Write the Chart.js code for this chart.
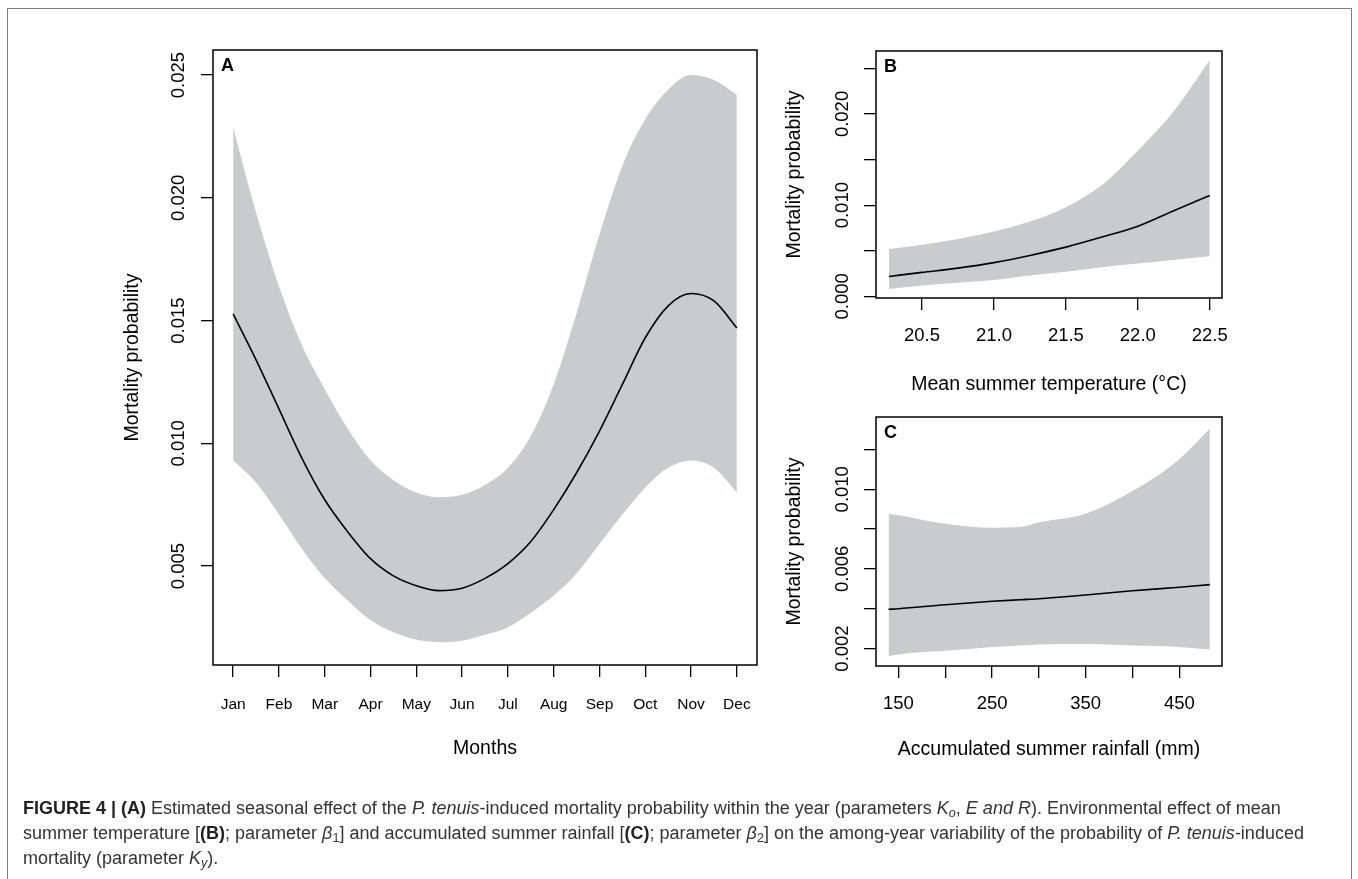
<!DOCTYPE html>
<html>
<head>
<meta charset="utf-8">
<script src="https://cdn.jsdelivr.net/npm/chart.js@4.4.1/dist/chart.umd.min.js"></script>
<style>
  html, body { margin: 0; padding: 0; background: #fff; }
  body { width: 1358px; height: 879px; position: relative; overflow: hidden; font-family: "Liberation Sans", Arial, sans-serif; }
  #frame { position: absolute; left: 7px; top: 8px; width: 1345px; height: 920px; border: 1.5px solid #7d7d7d; box-sizing: border-box; }
  canvas { position: absolute; left: 0; top: 0; pointer-events: none; }
  #caption { position: absolute; left: 23px; top: 796px; font-size: 16px; line-height: 25px; color: #333; white-space: nowrap; }
  #caption div { display: block; }
  #caption span { display: inline-block; }
  #caption b { font-weight: bold; color: #222; }
  #caption sub { font-size: 70%; vertical-align: -3px; line-height: 0; }
</style>
</head>
<body>
<div id="frame"></div>
<canvas id="panelA" width="1358" height="879"></canvas>
<canvas id="panelB" width="1358" height="879"></canvas>
<canvas id="panelC" width="1358" height="879"></canvas>
<div id="caption">
  <div><span id="cap1"><b>FIGURE 4 | (A)</b> Estimated seasonal effect of the <i>P. tenuis</i>-induced mortality probability within the year (parameters <i>K</i><sub><i>o</i></sub>, <i>E and R</i>). Environmental effect of mean</span></div>
  <div>summer temperature [<b>(B)</b>; parameter <i>β</i><sub>1</sub>] and accumulated summer rainfall [<b>(C)</b>; parameter <i>β</i><sub>2</sub>] on the among-year variability of the probability of <i>P. tenuis</i>-induced</div>
  <div>mortality (parameter <i>K</i><sub><i>y</i></sub>).</div>
</div>
<script>
// --- panel A: seasonal effect (month 1 = Jan) ---
const monthTicks = [1, 2, 3, 4, 5, 6, 7, 8, 9, 10, 11, 12];
const monthLabels = ['Jan', 'Feb', 'Mar', 'Apr', 'May', 'Jun', 'Jul', 'Aug', 'Sep', 'Oct', 'Nov', 'Dec'];
const monthX = [1, 1.5, 2, 2.5, 3, 3.5, 4, 4.5, 5, 5.5, 6, 6.5, 7, 7.5, 8, 8.5, 9, 9.5, 10, 10.5, 11, 11.5, 12];
const seasonMid = [0.01527, 0.0134, 0.0114, 0.0094, 0.0077, 0.0064, 0.0053, 0.0046, 0.0042, 0.0040, 0.0041, 0.0045,
  0.0051, 0.0060, 0.0073, 0.0088, 0.0105, 0.0124, 0.0143, 0.0156, 0.0161, 0.0158, 0.0147];
const seasonUpper = [0.02286, 0.0194, 0.0164, 0.0140, 0.0122, 0.0106, 0.0093, 0.0085, 0.0080, 0.0078, 0.0079, 0.0083,
  0.0090, 0.0103, 0.0124, 0.0153, 0.0185, 0.0213, 0.0232, 0.0244, 0.0250, 0.0248, 0.0242];
const seasonLower = [0.00931, 0.0084, 0.0071, 0.0057, 0.0045, 0.0036, 0.0028, 0.0023, 0.0020, 0.0019, 0.00196, 0.0022,
  0.0025, 0.0031, 0.0038, 0.0047, 0.0059, 0.0071, 0.0082, 0.0090, 0.0093, 0.0090, 0.0080];
const yTicksA = [0.005, 0.010, 0.015, 0.020, 0.025];
const yLabelsA = ['0.005', '0.010', '0.015', '0.020', '0.025'];

// --- panel B: mean summer temperature ---
const tempX = [20.27, 20.5, 20.75, 21.0, 21.25, 21.5, 21.75, 22.0, 22.25, 22.5];
const tempMid = [0.00219, 0.00263, 0.0031, 0.0037, 0.00449, 0.0054, 0.0065, 0.0077, 0.0094, 0.01105];
const tempUpper = [0.00519, 0.00566, 0.00628, 0.00711, 0.0082, 0.00978, 0.0122, 0.0160, 0.0203, 0.0259];
const tempLower = [0.00081, 0.0012, 0.0015, 0.0018, 0.0023, 0.0027, 0.0032, 0.0036, 0.0040, 0.0044];
const tempTicks = [20.5, 21.0, 21.5, 22.0, 22.5];
const tempLabels = ['20.5', '21.0', '21.5', '22.0', '22.5'];
const yTicksB = [0, 0.005, 0.010, 0.015, 0.020, 0.025];
const yLabelsB = ['0.000', '', '0.010', '', '0.020', ''];

// --- panel C: accumulated summer rainfall ---
const rainX = [139.4, 150, 200, 250, 280, 300, 350, 400, 450, 482.6];
const rainMid = [0.00397, 0.0040, 0.0042, 0.00437, 0.00445, 0.0045, 0.00469, 0.0049, 0.00508, 0.00521];
const rainUpper = [0.00876, 0.0087, 0.00827, 0.00807, 0.0081, 0.00834, 0.00877, 0.00991, 0.01151, 0.01305];
const rainLower = [0.00161, 0.0017, 0.00188, 0.00208, 0.00215, 0.0022, 0.00222, 0.00215, 0.00208, 0.00195];
const rainTicks = [150, 200, 250, 300, 350, 400, 450];
const rainLabels = ['150', '', '250', '', '350', '', '450'];
const yTicksC = [0.002, 0.004, 0.006, 0.008, 0.010, 0.012];
const yLabelsC = ['0.002', '', '0.006', '', '0.010', ''];

const W = 1358, H = 879;
const X_AXIS_H = 60; // room under each plot box for the x tick labels
const BAND = 'rgb(201, 204, 205)';
const FONT = '"Liberation Sans", Arial, sans-serif';

const pts = (xs, ys) => xs.map((x, i) => ({ x, y: ys[i] }));

// box, lettering and rotated y labels drawn on top of the library scales
function decoPlugin(p) {
  return {
    id: 'deco',
    afterDraw(chart) {
      const { ctx, chartArea: a } = chart;
      const ys = chart.scales.y;
      ctx.save();
      ctx.strokeStyle = '#000';
      ctx.lineWidth = 1.5;
      ctx.strokeRect(a.left, a.top, a.right - a.left, a.bottom - a.top);

      ctx.fillStyle = '#000';
      ctx.textAlign = 'center';
      ctx.textBaseline = 'middle';
      ctx.font = '18.5px ' + FONT;
      p.yTicks.forEach((v, i) => {
        if (!p.yLabels[i]) return;
        ctx.save();
        ctx.translate(p.yLabelX, ys.getPixelForValue(v));
        ctx.rotate(-Math.PI / 2);
        ctx.fillText(p.yLabels[i], 0, 0);
        ctx.restore();
      });

      ctx.font = '19.5px ' + FONT;
      ctx.save();
      ctx.translate(p.yTitleX, (a.top + a.bottom) / 2);
      ctx.rotate(-Math.PI / 2);
      ctx.fillText('Mortality probability', 0, 0);
      ctx.restore();
      ctx.fillText(p.xTitle, (a.left + a.right) / 2, p.xTitleY);

      ctx.font = 'bold 18px ' + FONT;
      ctx.textAlign = 'left';
      ctx.fillText(p.letter, a.left + 8, a.top + 16);
      ctx.restore();
    }
  };
}

function makePanel(canvasId, p) {
  const ctx = document.getElementById(canvasId).getContext('2d');
  return new Chart(ctx, {
    type: 'line',
    data: {
      // first dataset is drawn on top, so the estimate line comes first
      datasets: [
        { data: pts(p.x, p.mid), fill: false, borderColor: '#000', borderWidth: 1.6, pointRadius: 0, cubicInterpolationMode: 'monotone' },
        { data: pts(p.x, p.upper), fill: '+1', backgroundColor: BAND, borderColor: 'rgba(0,0,0,0)', borderWidth: 0, pointRadius: 0, cubicInterpolationMode: 'monotone' },
        { data: pts(p.x, p.lower), fill: false, backgroundColor: BAND, borderColor: 'rgba(0,0,0,0)', borderWidth: 0, pointRadius: 0, cubicInterpolationMode: 'monotone' }
      ]
    },
    options: {
      responsive: false,
      animation: false,
      devicePixelRatio: 1,
      layout: { padding: { left: p.box.l, top: p.box.t, right: W - p.box.r, bottom: H - p.box.b - X_AXIS_H } },
      plugins: { legend: { display: false }, tooltip: { enabled: false } },
      scales: {
        x: {
          type: 'linear', min: p.xMin, max: p.xMax,
          afterFit: s => { s.height = X_AXIS_H; },
          afterBuildTicks: s => { s.ticks = p.xTicks.map(v => ({ value: v })); },
          ticks: {
            autoSkip: false, maxRotation: 0, minRotation: 0,
            padding: p.xPad, color: '#000',
            font: { family: FONT, size: p.xFont },
            callback: (v, i) => p.xLabels[i]
          },
          grid: { drawOnChartArea: false, drawTicks: true, tickLength: 12, color: '#000', lineWidth: 1.3 },
          border: { display: false }
        },
        y: {
          type: 'linear', min: p.yMin, max: p.yMax,
          afterFit: s => { s.width = 0; },
          afterBuildTicks: s => { s.ticks = p.yTicks.map(v => ({ value: v })); },
          ticks: { display: false },
          grid: { drawOnChartArea: false, drawTicks: true, tickLength: 12, color: '#000', lineWidth: 1.3 },
          border: { display: false }
        }
      }
    },
    plugins: [decoPlugin(p)]
  });
}

makePanel('panelA', {
  box: { l: 213, t: 50, r: 757, b: 665 },
  x: monthX, mid: seasonMid, upper: seasonUpper, lower: seasonLower,
  xMin: 0.56, xMax: 12.44, yMin: 0.00097, yMax: 0.02602,
  xTicks: monthTicks, xLabels: monthLabels, xFont: 15.5, xPad: 18,
  yTicks: yTicksA, yLabels: yLabelsA, yLabelX: 179, yTitleX: 133,
  xTitle: 'Months', xTitleY: 749, letter: 'A'
});

makePanel('panelB', {
  box: { l: 876, t: 51, r: 1222, b: 298 },
  x: tempX, mid: tempMid, upper: tempUpper, lower: tempLower,
  xMin: 20.18, xMax: 22.585, yMin: -0.000175, yMax: 0.0269,
  xTicks: tempTicks, xLabels: tempLabels, xFont: 18.5, xPad: 15,
  yTicks: yTicksB, yLabels: yLabelsB, yLabelX: 843, yTitleX: 795,
  xTitle: 'Mean summer temperature (°C)', xTitleY: 385, letter: 'B'
});

makePanel('panelC', {
  box: { l: 876, t: 417, r: 1222, b: 666 },
  x: rainX, mid: rainMid, upper: rainUpper, lower: rainLower,
  xMin: 126, xMax: 495.6, yMin: 0.00112, yMax: 0.01363,
  xTicks: rainTicks, xLabels: rainLabels, xFont: 18.5, xPad: 15,
  yTicks: yTicksC, yLabels: yLabelsC, yLabelX: 843, yTitleX: 795,
  xTitle: 'Accumulated summer rainfall (mm)', xTitleY: 750, letter: 'C'
});

// caption: scale font so the first line ends where it does in the figure
const cap = document.getElementById('caption');
const w = document.getElementById('cap1').getBoundingClientRect().width;
cap.style.fontSize = (16 * 1258 / w).toFixed(2) + 'px';
</script>
</body>
</html>
